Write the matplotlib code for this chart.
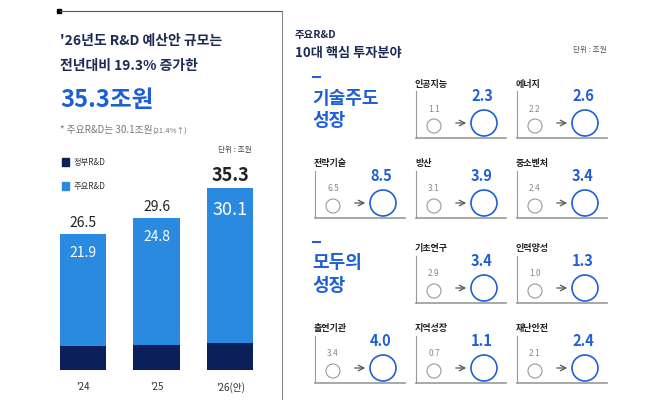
import matplotlib
matplotlib.use("Agg")
import matplotlib.pyplot as plt
from matplotlib.patches import Rectangle, Circle

plt.rcParams["font.family"] = "Noto Sans CJK KR"

years = ["'24", "'25", "'26(안)"]
total = [26.5, 29.6, 35.3]
major = [21.9, 24.8, 30.1]
gov_only = [t - m for t, m in zip(total, major)]

fields = ["인공지능", "에너지", "전략기술", "방산", "중소벤처",
          "기초연구", "인력양성", "출연기관", "지역성장", "재난안전"]
before = [1.1, 2.2, 6.5, 3.1, 2.4, 2.9, 1.0, 3.4, 0.7, 2.1]
after = [2.3, 2.6, 8.5, 3.9, 3.4, 3.4, 1.3, 4.0, 1.1, 2.4]
cells = [(0, 1), (0, 2), (1, 0), (1, 1), (1, 2), (2, 1), (2, 2), (3, 0), (3, 1), (3, 2)]

W, H = 658, 406
LB, DARK, NAVY, BLUE = "#2a8ae0", "#0b1f5a", "#1c2b55", "#1f5fd6"
fig = plt.figure(figsize=(W/100, H/100), dpi=100)
ov = fig.add_axes([0, 0, 1, 1])
ov.set_xlim(0, W); ov.set_ylim(H, 0); ov.axis("off")

# frame of left panel
ov.plot([60, 282], [12, 12], color="#555", lw=0.8)
ov.plot([282, 282], [12, 400], color="#888", lw=0.8)
ov.add_patch(Rectangle((57, 10), 4, 4, color="black"))

ov.text(60, 41, "'26년도 R&D 예산안 규모는", fontsize=10, fontweight="bold", color=NAVY, va="center")
ov.text(60, 66, "전년대비 19.3% 증가한", fontsize=10, fontweight="bold", color=NAVY, va="center")
ov.text(60, 100, "35.3조원", fontsize=17, fontweight="bold", color=BLUE, va="center")
ov.text(60, 130, "* 주요R&D는 30.1조원", fontsize=7, color="#777", va="center")
ov.text(152, 131, "(21.4%↑)", fontsize=5.5, color="#777", va="center")
ov.text(252, 150, "단위 : 조원", fontsize=5.5, color="#444", ha="right", va="center")
ov.add_patch(Rectangle((62, 159), 7, 8, color=DARK))
ov.text(74, 163, "정부R&D", fontsize=6, color="#333", va="center")
ov.add_patch(Rectangle((62, 183), 7, 8, color=LB))
ov.text(74, 187, "주요R&D", fontsize=6, color="#333", va="center")

# bar chart
ax = fig.add_axes([46/W, 1-371/H, (267-46)/W, (371-165)/H])
x = list(range(len(years)))
ax.bar(x, gov_only, width=0.625, color=DARK)
ax.bar(x, major, bottom=gov_only, width=0.625, color=LB)
for i in x:
    big = i == 2
    ax.text(i, total[i] + 0.8, f"{total[i]}", ha="center", va="bottom",
            fontsize=13 if big else 10, fontweight="bold" if big else "normal", color="#222")
    ax.text(i, total[i] - 2.2, f"{major[i]}", ha="center", va="top",
            fontsize=13 if big else 10, color="white")
ax.set_xlim(-0.5, 2.5); ax.set_ylim(0, 40)
ax.set_xticks(x, years, fontsize=7, color="#333")
ax.tick_params(length=0, pad=8)
ax.set_yticks([])
for s in ax.spines.values():
    s.set_visible(False)
ax.patch.set_alpha(0)

# right side
ov.text(295, 35, "주요R&D", fontsize=7.5, fontweight="bold", color=NAVY, va="center")
ov.text(295, 53, "10대 핵심 투자분야", fontsize=9.5, fontweight="bold", color=NAVY, va="center")
ov.text(607, 50, "단위 : 조원", fontsize=5.5, color="#555", ha="right", va="center")
for y0, t1 in [(78, "기술주도"), (243, "모두의")]:
    ov.plot([313, 320], [y0, y0], color=BLUE, lw=1.5)
    ov.text(312, y0 + 20, t1, fontsize=13, fontweight="bold", color=BLUE, va="center")
    ov.text(312, y0 + 43, "성장", fontsize=13, fontweight="bold", color=BLUE, va="center")

colx = [315, 416, 517]
rowb = [139, 219, 304, 384]
for name, b, a, (r, c) in zip(fields, before, after, cells):
    x0, yb = colx[c], rowb[r]
    ov.text(x0 - 1, yb - 55, name, fontsize=6.5, fontweight="bold", color="#222", va="center")
    ov.plot([x0, x0], [yb - 47, yb], color="#999", lw=0.8)
    ov.plot([x0, x0 + 90], [yb, yb], color="#999", lw=1.2)
    ov.text(x0 + 18, yb - 30, f"{b}", fontsize=6, color="#888", ha="center", va="center")
    ov.add_patch(Circle((x0 + 18, yb - 12), 7, fill=False, ec="#999", lw=0.8))
    ov.annotate("", xy=(x0 + 53, yb - 15), xytext=(x0 + 37, yb - 15),
                arrowprops=dict(arrowstyle="->", color="#555", lw=0.9))
    ov.text(x0 + 66, yb - 43, f"{a}", fontsize=10.5, fontweight="bold", color=BLUE, ha="center", va="center")
    ov.add_patch(Circle((x0 + 68, yb - 15), 13, fill=False, ec=BLUE, lw=1.2))

fig.savefig("out.png", dpi=100)
